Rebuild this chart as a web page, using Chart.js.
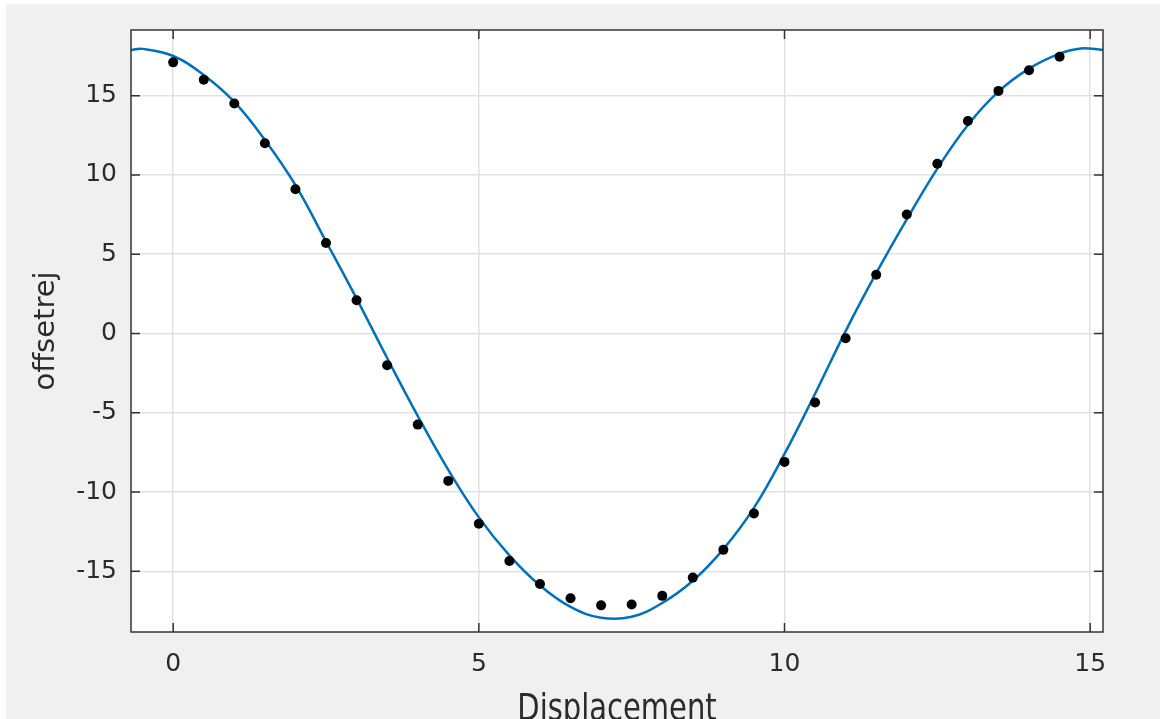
<!DOCTYPE html>
<html>
<head>
<meta charset="utf-8">
<script src="https://cdn.jsdelivr.net/npm/chart.js@4"></script>
<style>
  html, body { margin: 0; padding: 0; background: #fff; }
  #wrap { width: 1160px; height: 719px; }
</style>
</head>
<body>
<div id="wrap"><canvas id="chart" width="1160" height="719"></canvas></div>
<script>
// measured points (black dots)
var dispX = [0, 0.5, 1, 1.5, 2, 2.5, 3, 3.5, 4, 4.5, 5, 5.5, 6, 6.5, 7,
             7.5, 8, 8.5, 9, 9.5, 10, 10.5, 11, 11.5, 12, 12.5, 13, 13.5, 14, 14.5];
var offsetY = [17.1, 16.0, 14.5, 12.0, 9.1, 5.7, 2.1, -2.0, -5.75, -9.3, -12.0, -14.35, -15.8, -16.7, -17.15,
               -17.1, -16.55, -15.4, -13.65, -11.35, -8.1, -4.35, -0.3, 3.7, 7.5, 10.7, 13.4, 15.3, 16.6, 17.45];

// fitted curve (blue line)
var fitX = [-0.69, -0.5, 0, 0.5, 1, 1.5, 2, 2.5, 3, 3.5, 4, 4.5, 5, 5.5, 6, 6.5, 7, 7.5,
            8, 8.5, 9, 9.5, 10, 10.5, 11, 11.5, 12, 12.5, 13, 13.5, 14, 14.5, 14.85, 15.21];
var fitY = [17.88, 17.95, 17.5, 16.3, 14.6, 12.2, 9.35, 5.8, 2.2, -1.55, -5.2, -8.6, -11.6, -14.0, -15.9, -17.25, -17.93, -17.87,
            -17.0, -15.6, -13.6, -11.0, -7.6, -3.8, 0.15, 3.8, 7.2, 10.4, 13.15, 15.25, 16.7, 17.65, 17.98, 17.88];

var xTicks = [0, 5, 10, 15];
var yTicks = [-15, -10, -5, 0, 5, 10, 15];
var xLimits = [-0.69, 15.21];
var yLimits = [-18.83, 19.14];
var xTitle = 'Displacement';
var yTitle = 'offsetrej';

function toXY(xs, ys) {
    return xs.map(function(x, i) { return {x: x, y: ys[i]}; });
}

var textColor = '#2b2b2b';
var tickFont = {family: 'DejaVu Sans', size: 25};
var labelFont = {family: 'DejaVu Sans', size: 29, lineHeight: 1};

// figure background, white axes, box, inward ticks and the x label
var matlabFrame = {
    id: 'matlabFrame',
    beforeDraw: function(chart) {
        var c = chart.ctx, a = chart.chartArea;
        c.save();
        c.fillStyle = '#ffffff';
        c.fillRect(0, 0, chart.width, chart.height);
        c.fillStyle = '#f0f0f0';
        c.fillRect(6, 4, chart.width - 6, chart.height - 4);
        c.fillStyle = '#ffffff';
        c.fillRect(a.left, a.top, a.right - a.left, a.bottom - a.top);
        c.restore();
    },
    afterDraw: function(chart) {
        var c = chart.ctx, a = chart.chartArea;
        var xs = chart.scales.x, ys = chart.scales.y;
        var len = 9;
        c.save();
        c.strokeStyle = '#333333';
        c.lineWidth = 1.5;
        c.beginPath();
        xTicks.forEach(function(v) {
            var px = xs.getPixelForValue(v);
            c.moveTo(px, a.bottom); c.lineTo(px, a.bottom - len);
            c.moveTo(px, a.top); c.lineTo(px, a.top + len);
        });
        yTicks.forEach(function(v) {
            var py = ys.getPixelForValue(v);
            c.moveTo(a.left, py); c.lineTo(a.left + len, py);
            c.moveTo(a.right, py); c.lineTo(a.right - len, py);
        });
        c.stroke();
        c.strokeRect(a.left, a.top, a.right - a.left, a.bottom - a.top);

        // x label is drawn a bit taller and runs off the bottom edge, like the original
        c.translate((a.left + a.right) / 2, 719.5);
        c.scale(1, 1.3);
        c.fillStyle = textColor;
        c.font = '29px "DejaVu Sans"';
        c.textAlign = 'center';
        c.textBaseline = 'alphabetic';
        c.fillText(xTitle, 0, 0);
        c.restore();
    }
};

var ctx = document.getElementById('chart').getContext('2d');
var myChart = new Chart(ctx, {
    type: 'scatter',
    data: {
        datasets: [{
            label: 'data',
            data: toXY(dispX, offsetY),
            pointRadius: 5,
            pointBackgroundColor: '#000000',
            pointBorderWidth: 0,
            showLine: false
        }, {
            label: 'fit',
            data: toXY(fitX, fitY),
            showLine: true,
            pointRadius: 0,
            borderColor: '#0072bd',
            borderWidth: 2.5,
            tension: 0.4,
            fill: false
        }]
    },
    options: {
        responsive: false,
        animation: false,
        events: [],
        layout: {
            padding: {left: 0, right: 57, top: 30, bottom: 0}
        },
        plugins: {
            legend: {display: false},
            tooltip: {enabled: false}
        },
        scales: {
            x: {
                type: 'linear',
                position: 'bottom',
                min: xLimits[0],
                max: xLimits[1],
                afterBuildTicks: function(scale) {
                    scale.ticks = xTicks.map(function(v) { return {value: v}; });
                },
                afterFit: function(scale) { scale.height = 87; },
                grid: {color: '#e1e1e1', lineWidth: 1.5, drawTicks: false},
                border: {display: false},
                ticks: {color: textColor, font: tickFont, padding: 17, maxRotation: 0},
                title: {display: false}
            },
            y: {
                type: 'linear',
                position: 'left',
                min: yLimits[0],
                max: yLimits[1],
                afterBuildTicks: function(scale) {
                    scale.ticks = yTicks.map(function(v) { return {value: v}; });
                },
                afterFit: function(scale) { scale.width = 131; },
                grid: {color: '#e1e1e1', lineWidth: 1.5, drawTicks: false},
                border: {display: false},
                ticks: {color: textColor, font: tickFont, padding: 14},
                title: {
                    display: true,
                    text: yTitle,
                    color: textColor,
                    font: labelFont,
                    padding: {top: 32, bottom: 0}
                }
            }
        }
    },
    plugins: [matlabFrame]
});
</script>
</body>
</html>
